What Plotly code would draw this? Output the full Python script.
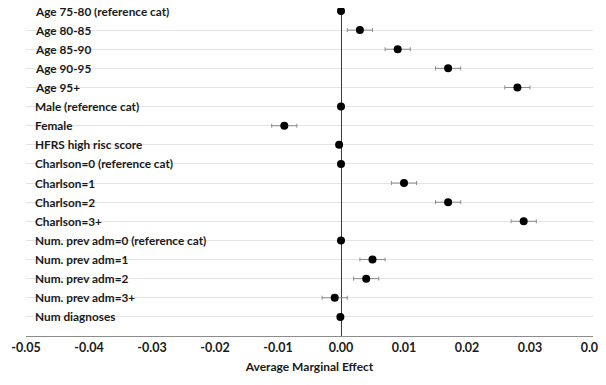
import plotly.graph_objects as go

categories = [
    "Age 75-80 (reference cat)", "Age 80-85", "Age 85-90", "Age 90-95", "Age 95+",
    "Male (reference cat)", "Female", "HFRS high risc score",
    "Charlson=0 (reference cat)", "Charlson=1", "Charlson=2", "Charlson=3+",
    "Num. prev adm=0 (reference cat)", "Num. prev adm=1", "Num. prev adm=2",
    "Num. prev adm=3+", "Num diagnoses",
]
effects = [0.0, 0.003, 0.009, 0.017, 0.028,
           0.0, -0.009, -0.0003,
           0.0, 0.010, 0.017, 0.029,
           0.0, 0.005, 0.004, -0.001, -0.0001]
errors = [0.0, 0.002, 0.002, 0.002, 0.002,
          0.0, 0.002, 0.0,
          0.0, 0.002, 0.002, 0.002,
          0.0, 0.002, 0.002, 0.002, 0.0]
x_ticks = [-0.05, -0.04, -0.03, -0.02, -0.01, 0.0, 0.01, 0.02, 0.03, 0.04]

n = len(categories)
ypos = [n - i for i in range(n)]

FONT = "Lato"

fig = go.Figure()
fig.add_trace(go.Scatter(
    x=effects, y=ypos, mode="markers", cliponaxis=False,
    marker=dict(color="black", size=8),
    error_x=dict(type="data", array=errors, visible=True,
                 color="#8c8c8c", thickness=1, width=2),
    showlegend=False, hoverinfo="skip",
))

for c, y in zip(categories, ypos):
    fig.add_annotation(x=0.012, xref="paper", y=y, yref="y", text=c,
                       showarrow=False, xanchor="left", yanchor="middle",
                       font=dict(family=FONT, size=11.8, color="#1a1a1a", weight="bold"))

# page body has an 8px margin, so the figure is sized/offset accordingly
fig.update_layout(
    width=598, height=377,
    margin=dict(l=18, r=13, t=3, b=49, autoexpand=False),
    plot_bgcolor="white", paper_bgcolor="white",
    xaxis=dict(range=[-0.05, 0.04], tickvals=x_ticks, automargin=False,
               ticktext=[f"{v:.2f}" for v in x_ticks],
               showgrid=False, zeroline=True, zerolinecolor="#3a3a3a", zerolinewidth=1.3,
               showline=True, linecolor="#8c8c8c", linewidth=1.2,
               ticks="", tickfont=dict(family=FONT, size=12.5, color="#1a1a1a", weight="bold"),
               title=dict(text="Average Marginal Effect", standoff=8,
                          font=dict(family=FONT, size=12, color="#1a1a1a", weight="bold"))),
    yaxis=dict(range=[0, n], tickvals=ypos, showticklabels=False, automargin=False,
               showgrid=True, gridcolor="#e4e4e4", gridwidth=1,
               zeroline=False, showline=False, ticks=""),
)

fig.write_html("out.html")
